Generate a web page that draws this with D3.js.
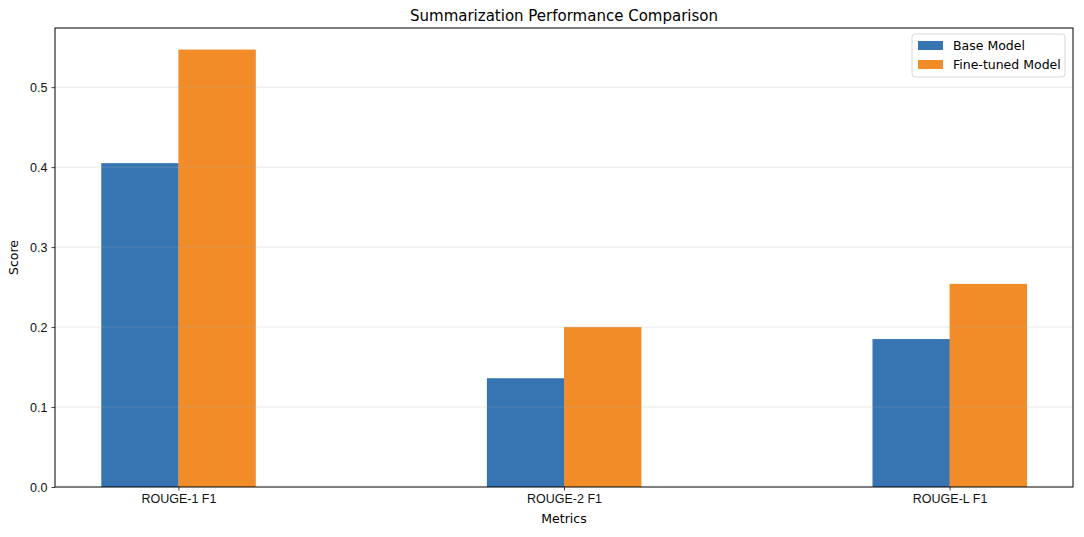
<!DOCTYPE html>
<html>
<head>
<meta charset="utf-8">
<script src="https://cdn.jsdelivr.net/npm/d3@7"></script>
<style>
body { margin: 0; background: #fff; }
svg { font-family: "DejaVu Sans", sans-serif; }
</style>
</head>
<body>
<svg width="1084" height="537"></svg>
<script>
var metrics = ["ROUGE-1 F1", "ROUGE-2 F1", "ROUGE-L F1"];
var seriesNames = ["Base Model", "Fine-tuned Model"];
var baseScores = [0.405, 0.136, 0.185];
var fineScores = [0.547, 0.200, 0.254];
var yTicks = [0.0, 0.1, 0.2, 0.3, 0.4, 0.5];
var colors = ["#3774b2", "#f28c28"];

var svg = d3.select("svg"),
margin = {top: 28, right: 11, bottom: 50, left: 55},
width = +svg.attr("width") - margin.left - margin.right,
height = +svg.attr("height") - margin.top - margin.bottom;

var barW = 0.2;
// linear x in category index units, like matplotlib's auto margins
var x = d3.scaleLinear().domain([-barW - 0.12, 2 + barW + 0.12]).range([0, width]);
var y = d3.scaleLinear().domain([0, 0.574]).range([height, 0]);

var g = svg.append("g").attr("transform", "translate(" + margin.left + "," + margin.top + ")");

var rows = [];
metrics.forEach(function(m, i) {
    rows.push({i: i, s: 0, v: baseScores[i]});
    rows.push({i: i, s: 1, v: fineScores[i]});
});

g.selectAll(".bar")
    .data(rows)
    .enter().append("rect")
    .attr("class", "bar")
    .attr("x", function(d) { return x(d.s === 0 ? d.i - barW : d.i); })
    .attr("y", function(d) { return y(d.v); })
    .attr("width", x(barW) - x(0) + 0.3)
    .attr("height", function(d) { return height - y(d.v); })
    .attr("fill", function(d) { return colors[d.s]; });

// grid on top of bars
g.append("g")
    .selectAll("line")
    .data(yTicks.slice(1))
    .enter().append("line")
    .attr("x1", 0).attr("x2", width)
    .attr("y1", function(d) { return y(d); })
    .attr("y2", function(d) { return y(d); })
    .attr("stroke", "#b0b0b0")
    .attr("stroke-opacity", 0.35)
    .attr("stroke-width", 0.8);

var yAxis = g.append("g")
    .call(d3.axisLeft(y).tickValues(yTicks).tickFormat(d3.format(".1f")).tickSize(3.5).tickPadding(4));
var xAxis = g.append("g")
    .attr("transform", "translate(0," + height + ")")
    .call(d3.axisBottom(x).tickValues([0, 1, 2]).tickFormat(function(d) { return metrics[d]; }).tickSize(3.5).tickPadding(4));

[yAxis, xAxis].forEach(function(a) {
    a.select(".domain").remove();
    a.selectAll("text").style("font-size", "12.5px").attr("fill", "#111");
    a.selectAll(".tick line").attr("stroke", "#111").attr("stroke-width", 0.8);
});

g.append("rect")
    .attr("width", width).attr("height", height)
    .attr("fill", "none").attr("stroke", "#000").attr("stroke-width", 1);

g.append("text")
    .attr("x", width / 2).attr("y", height + 36)
    .attr("text-anchor", "middle")
    .style("font-size", "12.5px")
    .text("Metrics");

g.append("text")
    .attr("transform", "rotate(-90)")
    .attr("x", -height / 2).attr("y", -37)
    .attr("text-anchor", "middle")
    .style("font-size", "12.5px")
    .text("Score");

svg.append("text")
    .attr("x", margin.left + width / 2).attr("y", 21)
    .attr("text-anchor", "middle")
    .style("font-size", "15px")
    .text("Summarization Performance Comparison");

// legend
var lg = g.append("g").attr("transform", "translate(" + (width - 161) + ",6)");
lg.append("rect")
    .attr("width", 153).attr("height", 43).attr("rx", 3)
    .attr("fill", "#fff").attr("fill-opacity", 0.8)
    .attr("stroke", "#d8d8d8");
seriesNames.forEach(function(n, i) {
    lg.append("rect")
        .attr("x", 6).attr("y", 7 + i * 19)
        .attr("width", 25).attr("height", 9)
        .attr("fill", colors[i]);
    lg.append("text")
        .attr("x", 41).attr("y", 16 + i * 19)
        .style("font-size", "12.5px")
        .text(n);
});
</script>
</body>
</html>
